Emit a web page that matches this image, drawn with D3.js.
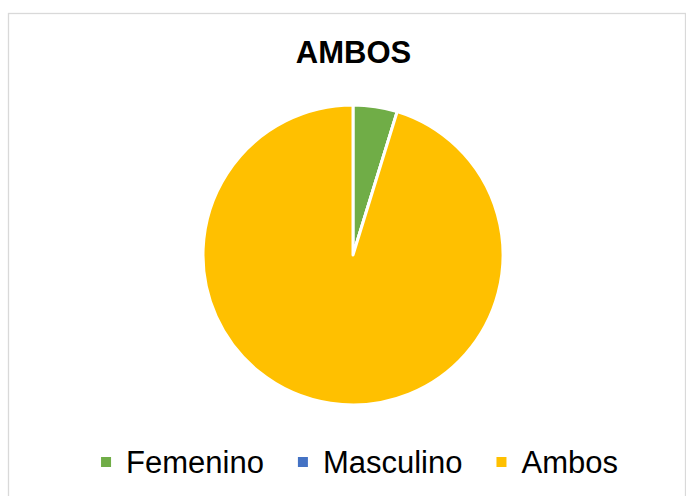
<!DOCTYPE html>
<html>
<head>
<meta charset="utf-8">
<script src="https://cdn.jsdelivr.net/npm/d3@7"></script>
<style>
  body { margin: 0; background: #fff; }
  svg { display: block; font-family: "Liberation Sans", Arial, sans-serif; }
</style>
</head>
<body>
<div class="chart"></div>
<script>
(function() {
  'use strict';

  // data
  const categories = ['Femenino', 'Masculino', 'Ambos'],
        values     = [1, 0, 20],
        colors     = ['#70AD47', '#4472C4', '#FFC000'],
        title      = 'AMBOS';

  let width  = 686,
      height = 496,
      cx = 353, cy = 255, radius = 150,

      svg = d3.select('.chart')
        .append('svg')
        .attr('width', width)
        .attr('height', height);

  // chart frame
  svg.append('rect')
    .attr('x', 8.5)
    .attr('y', 13.5)
    .attr('width', 677)
    .attr('height', 500)
    .attr('fill', 'none')
    .attr('stroke', '#d9d9d9')
    .attr('stroke-width', 1.3);

  svg.append('text')
    .attr('x', 353.5)
    .attr('y', 63)
    .attr('text-anchor', 'middle')
    .style('font-size', '31px')
    .style('font-weight', 'bold')
    .text(title);

  let color = d3.scaleOrdinal().domain(categories).range(colors),
      pie = d3.pie().sort(null).value(d => d.value),
      arc = d3.arc().innerRadius(0).outerRadius(radius),
      data = categories.map((c, i) => ({ name: c, value: values[i] }));

  svg.append('g')
    .attr('transform', `translate(${cx},${cy})`)
    .selectAll('path')
    .data(pie(data))
    .enter()
    .append('path')
      .attr('d', arc)
      .attr('fill', d => color(d.data.name))
      .attr('stroke', '#fff')
      .attr('stroke-width', 3)
      .attr('stroke-linejoin', 'round');

  // legend
  let legend = svg.append('g'),
      x = 0;

  categories.forEach((c, i) => {
    let item = legend.append('g').attr('transform', `translate(${x},0)`);
    item.append('rect')
      .attr('x', 0).attr('y', -16)
      .attr('width', 10).attr('height', 10)
      .attr('fill', color(c));
    let t = item.append('text')
      .attr('x', 25)
      .style('font-size', '31px')
      .text(c);
    x += 25 + t.node().getComputedTextLength() + 34;
  });

  let lw = x - 34;
  legend.attr('transform', `translate(${359.5 - lw / 2},473)`);

})();
</script>
</body>
</html>
